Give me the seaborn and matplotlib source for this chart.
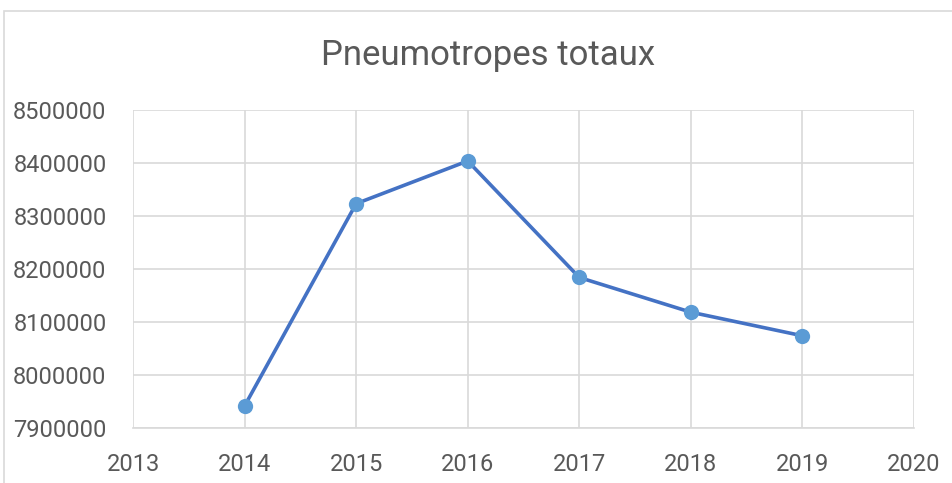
import matplotlib
matplotlib.use("Agg")
import matplotlib.pyplot as plt
import seaborn as sns
import pandas as pd
from matplotlib.patches import Rectangle

years = [2014, 2015, 2016, 2017, 2018, 2019]
values = [7941600, 8323300, 8403800, 8184000, 8118500, 8074000]
x_ticks = [2013, 2014, 2015, 2016, 2017, 2018, 2019, 2020]
y_ticks = [7900000, 8000000, 8100000, 8200000, 8300000, 8400000, 8500000]
title = "Pneumotropes totaux"

sns.set_theme(style="white")
plt.rcParams['font.family'] = ['Roboto', 'DejaVu Sans']

df = pd.DataFrame({"year": years, "value": values})

fig = plt.figure(figsize=(9.53, 4.83), dpi=100)
ax = fig.add_axes([133/953, 1-428/483, (914-133)/953, (428-110)/483])

sns.lineplot(data=df, x="year", y="value", ax=ax, color="#4472C4", linewidth=2.6,
             marker="o", markersize=11, markerfacecolor="#5B9BD5", markeredgecolor="#5B9BD5",
             markeredgewidth=0, zorder=3)

ax.set_xlim(2013, 2020)
ax.set_ylim(7900000, 8500000)
ax.set_xticks(x_ticks)
ax.set_xticklabels([str(t) for t in x_ticks])
ax.set_yticks(y_ticks)
ax.set_yticklabels([str(t) for t in y_ticks])
ax.grid(True, color="#D9D9D9", linewidth=1.2)
for s in ax.spines.values():
    s.set_visible(False)
ax.spines['bottom'].set_visible(True)
ax.spines['bottom'].set_color("#D9D9D9")
ax.spines['bottom'].set_linewidth(1.2)
ax.set_xlabel("")
ax.set_ylabel("")
ax.tick_params(axis='both', length=0, labelsize=17, labelcolor="#595959")
ax.tick_params(axis='y', pad=19)
ax.tick_params(axis='x', pad=18)

fig.text(488/953, 1-55/483, title, ha='center', va='center', fontsize=25,
         color="#595959", fontweight='normal')

fig.patches.append(Rectangle((4/953, -0.1), 1.1, 1-11/483+0.1, transform=fig.transFigure,
                             fill=False, edgecolor="#D9D9D9", linewidth=1.2))

fig.savefig("out.png", dpi=100)
